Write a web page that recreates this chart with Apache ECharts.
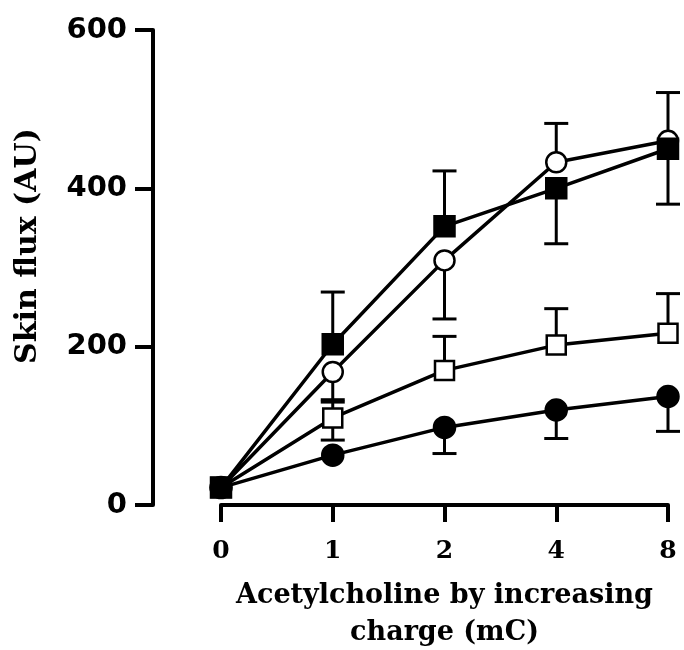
<!DOCTYPE html>
<html>
<head>
<meta charset="utf-8">
<script src="https://cdn.jsdelivr.net/npm/echarts@6/dist/echarts.min.js"></script>
<style>
  html, body { margin: 0; padding: 0; background: #fff; }
  #chart { width: 684px; height: 650px; }
</style>
</head>
<body>
<div id="chart"></div>
<script>
  // charge steps (mC)
  var charges = ['0', '1', '2', '4', '8'];

  // mean skin flux (AU) per group
  var filledSquare = [22, 203, 352, 400, 450];
  var openCircle   = [22, 168, 309, 433, 460];
  var openSquare   = [22, 110, 170, 202, 217];
  var filledCircle = [22, 63, 98, 120, 137];

  // error bar ends (only the side drawn in the figure), null = none shown
  var filledSquareHi = [null, 269, 422, null, null];
  var filledSquareLo = [null, null, null, 330, 380];
  var openCircleHi   = [null, null, null, 482, 521];
  var openCircleLo   = [null, 133, 235, null, null];
  var openSquareHi   = [null, 130, 213, 248, 267];
  var openSquareLo   = [null, 82, null, null, null];
  var filledCircleHi = [null, null, null, null, null];
  var filledCircleLo = [null, null, 65, 84, 93];

  var yTicks = [0, 200, 400, 600];

  var serif = '"DejaVu Serif", "Liberation Serif", serif';
  var sans = '"DejaVu Sans", "Liberation Sans", Arial, sans-serif';

  // x index, mean, bar end
  var errData = [];
  function addErr(mean, ends) {
    ends.forEach(function (v, i) {
      if (v !== null) errData.push([i, mean[i], v]);
    });
  }
  addErr(filledSquare, filledSquareHi);
  addErr(filledSquare, filledSquareLo);
  addErr(openCircle, openCircleHi);
  addErr(openCircle, openCircleLo);
  addErr(openSquare, openSquareHi);
  addErr(openSquare, openSquareLo);
  addErr(filledCircle, filledCircleHi);
  addErr(filledCircle, filledCircleLo);

  function lineSeries(data, symbol, fill, size) {
    return {
      type: 'line',
      data: data,
      symbol: symbol,
      symbolSize: size,
      showAllSymbol: true,
      lineStyle: { color: '#000', width: 3.5 },
      itemStyle: { color: fill, borderColor: '#000', borderWidth: 2.5, opacity: 1 },
      z: 3
    };
  }

  var myChart = echarts.init(document.getElementById('chart'));
  var option = {
    animation: false,
    backgroundColor: '#fff',
    grid: { left: 221, right: 16, top: 30, bottom: 145, outerBoundsMode: 'none', containLabel: false },
    xAxis: {
      type: 'category',
      data: charges,
      boundaryGap: false,
      axisLine: { lineStyle: { color: '#000', width: 4 } },
      axisTick: { alignWithLabel: true, length: 17, lineStyle: { color: '#000', width: 4 } },
      axisLabel: {
        color: '#000', fontFamily: serif, fontWeight: 'bold', fontSize: 25, margin: 34
      },
      name: 'Acetylcholine by increasing\ncharge (mC)',
      nameLocation: 'middle',
      nameGap: 72,
      nameTextStyle: {
        color: '#000', fontFamily: serif, fontWeight: 'bold', fontSize: 27, lineHeight: 37
      },
      splitLine: { show: false }
    },
    yAxis: {
      type: 'value',
      min: yTicks[0],
      max: yTicks[yTicks.length - 1],
      interval: 200,
      offset: 68,
      axisLine: { show: true, lineStyle: { color: '#000', width: 4 } },
      axisTick: { show: true, length: 18, lineStyle: { color: '#000', width: 4 } },
      axisLabel: {
        color: '#000', fontFamily: sans, fontWeight: 'bold', fontSize: 29, margin: 26
      },
      splitLine: { show: false }
    },
    graphic: [{
      type: 'text',
      x: 28,
      y: 246,
      rotation: Math.PI / 2,
      style: {
        text: 'Skin flux (AU)',
        fill: '#000',
        font: 'bold 30px ' + serif,
        textAlign: 'center',
        textVerticalAlign: 'middle'
      }
    }],
    series: [
      {
        type: 'custom',
        data: errData,
        z: 2,
        renderItem: function (params, api) {
          var p0 = api.coord([api.value(0), api.value(1)]);
          var p1 = api.coord([api.value(0), api.value(2)]);
          var st = { stroke: '#000', lineWidth: 3 };
          return {
            type: 'group',
            children: [
              { type: 'line', shape: { x1: p0[0], y1: p0[1], x2: p1[0], y2: p1[1] }, style: st },
              { type: 'line', shape: { x1: p1[0] - 12, y1: p1[1], x2: p1[0] + 12, y2: p1[1] }, style: st }
            ]
          };
        }
      },
      lineSeries(filledCircle, 'circle', '#000', 21),
      lineSeries(openSquare, 'rect', '#fff', 19),
      lineSeries(openCircle, 'circle', '#fff', 20),
      lineSeries(filledSquare, 'rect', '#000', 20)
    ]
  };
  myChart.setOption(option);
</script>
</body>
</html>
